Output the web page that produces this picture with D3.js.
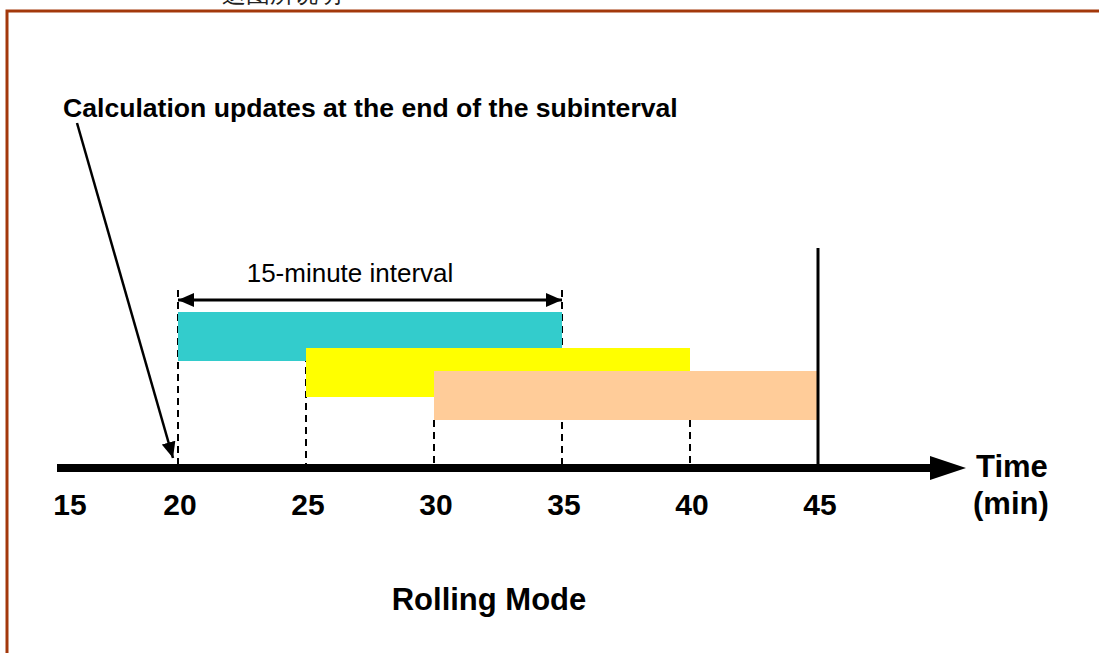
<!DOCTYPE html>
<html>
<head>
<meta charset="utf-8">
<script src="https://cdn.jsdelivr.net/npm/d3@7"></script>
<style>
  body { margin: 0; background: #fff; }
  svg text { font-family: Arial, "Liberation Sans", sans-serif; }
</style>
</head>
<body>
<div id="chart"></div>
<script>
// data
var windowStart = [20, 25, 30];
var windowEnd = [35, 40, 45];
var windowColor = ["#33cccc", "#ffff00", "#ffcc99"];
var tickValues = [15, 20, 25, 30, 35, 40, 45];
var markTimes = [20, 25, 30, 35, 40];
var intervalFrom = 20, intervalTo = 35, nowTime = 45;

// layout (pixels)
var barTop = [312, 348, 371];
var barH = 49;
var markTop = [290, 343, 420, 290, 420];
var axisY = 468;

var width = 1099, height = 653;

var svg = d3.select("#chart")
    .append("svg")
    .attr("width", width)
    .attr("height", height);

var x = d3.scaleLinear().domain([20, 45]).range([178, 818]);

// arrow head
var defs = svg.append("defs");
defs.append("marker")
    .attr("id", "tip")
    .attr("viewBox", "0 0 16 14")
    .attr("refX", 16).attr("refY", 7)
    .attr("markerWidth", 16).attr("markerHeight", 14)
    .attr("markerUnits", "userSpaceOnUse")
    .attr("orient", "auto-start-reverse")
    .append("path").attr("d", "M0,0L16,7L0,14Z").attr("fill", "#000");

// caption above the frame, cut by the top edge like the source
svg.append("text")
    .attr("x", 222).attr("y", 2)
    .attr("font-family", "'Noto Sans CJK SC', sans-serif")
    .attr("font-size", 24)
    .attr("fill", "#222")
    .text("这图所说明");

// frame
svg.append("rect")
    .attr("x", 7).attr("y", 11)
    .attr("width", 1200).attr("height", 800)
    .attr("fill", "none")
    .attr("stroke", "#a3380b")
    .attr("stroke-width", 3);

// dashed markers
svg.selectAll(".mark")
    .data(markTimes)
    .enter()
    .append("line")
    .attr("class", "mark")
    .attr("x1", function (d) { return x(d); })
    .attr("x2", function (d) { return x(d); })
    .attr("y1", function (d, i) { return markTop[i]; })
    .attr("y2", axisY - 4)
    .attr("stroke", "#000")
    .attr("stroke-width", 2)
    .attr("stroke-dasharray", "7,5");

// window bars
svg.selectAll(".bar")
    .data(windowStart)
    .enter()
    .append("rect")
    .attr("class", "bar")
    .attr("x", function (d) { return x(d); })
    .attr("y", function (d, i) { return barTop[i]; })
    .attr("width", function (d, i) { return x(windowEnd[i]) - x(d); })
    .attr("height", barH)
    .attr("fill", function (d, i) { return windowColor[i]; });

// now line
svg.append("line")
    .attr("x1", x(nowTime)).attr("x2", x(nowTime))
    .attr("y1", 248).attr("y2", axisY)
    .attr("stroke", "#000")
    .attr("stroke-width", 3);

// interval arrow
svg.append("line")
    .attr("x1", x(intervalFrom)).attr("x2", x(intervalTo))
    .attr("y1", 300).attr("y2", 300)
    .attr("stroke", "#000")
    .attr("stroke-width", 3)
    .attr("marker-start", "url(#tip)")
    .attr("marker-end", "url(#tip)");

svg.append("text")
    .attr("x", (x(intervalFrom) + x(intervalTo)) / 2 - 20)
    .attr("y", 282)
    .attr("text-anchor", "middle")
    .attr("font-size", 26)
    .text("15-minute interval");

// time axis
var axisStart = 57;
svg.append("line")
    .attr("x1", axisStart).attr("x2", 935)
    .attr("y1", axisY).attr("y2", axisY)
    .attr("stroke", "#000")
    .attr("stroke-width", 8);
svg.append("path")
    .attr("d", "M930," + (axisY - 12) + "L966," + axisY + "L930," + (axisY + 12) + "Z")
    .attr("fill", "#000");

svg.selectAll(".tick")
    .data(tickValues)
    .enter()
    .append("text")
    .attr("class", "tick")
    .attr("x", function (d) { return Math.max(x(d) + 2, axisStart + 13); })
    .attr("y", 515)
    .attr("text-anchor", "middle")
    .attr("font-size", 30)
    .attr("font-weight", "bold")
    .text(function (d) { return d; });

svg.append("text")
    .attr("x", 976).attr("y", 477)
    .attr("font-size", 31)
    .attr("font-weight", "bold")
    .text("Time");
svg.append("text")
    .attr("x", 973).attr("y", 514)
    .attr("font-size", 31)
    .attr("font-weight", "bold")
    .text("(min)");

// annotation
svg.append("text")
    .attr("x", 63).attr("y", 117)
    .attr("font-size", 26.6)
    .attr("font-weight", "bold")
    .text("Calculation updates at the end of the subinterval");

svg.append("line")
    .attr("x1", 77).attr("y1", 123)
    .attr("x2", x(20) - 5).attr("y2", axisY - 10)
    .attr("stroke", "#000")
    .attr("stroke-width", 2.5)
    .attr("marker-end", "url(#tip)");

svg.append("text")
    .attr("x", 489).attr("y", 610)
    .attr("text-anchor", "middle")
    .attr("font-size", 31)
    .attr("font-weight", "bold")
    .text("Rolling Mode");
</script>
</body>
</html>
